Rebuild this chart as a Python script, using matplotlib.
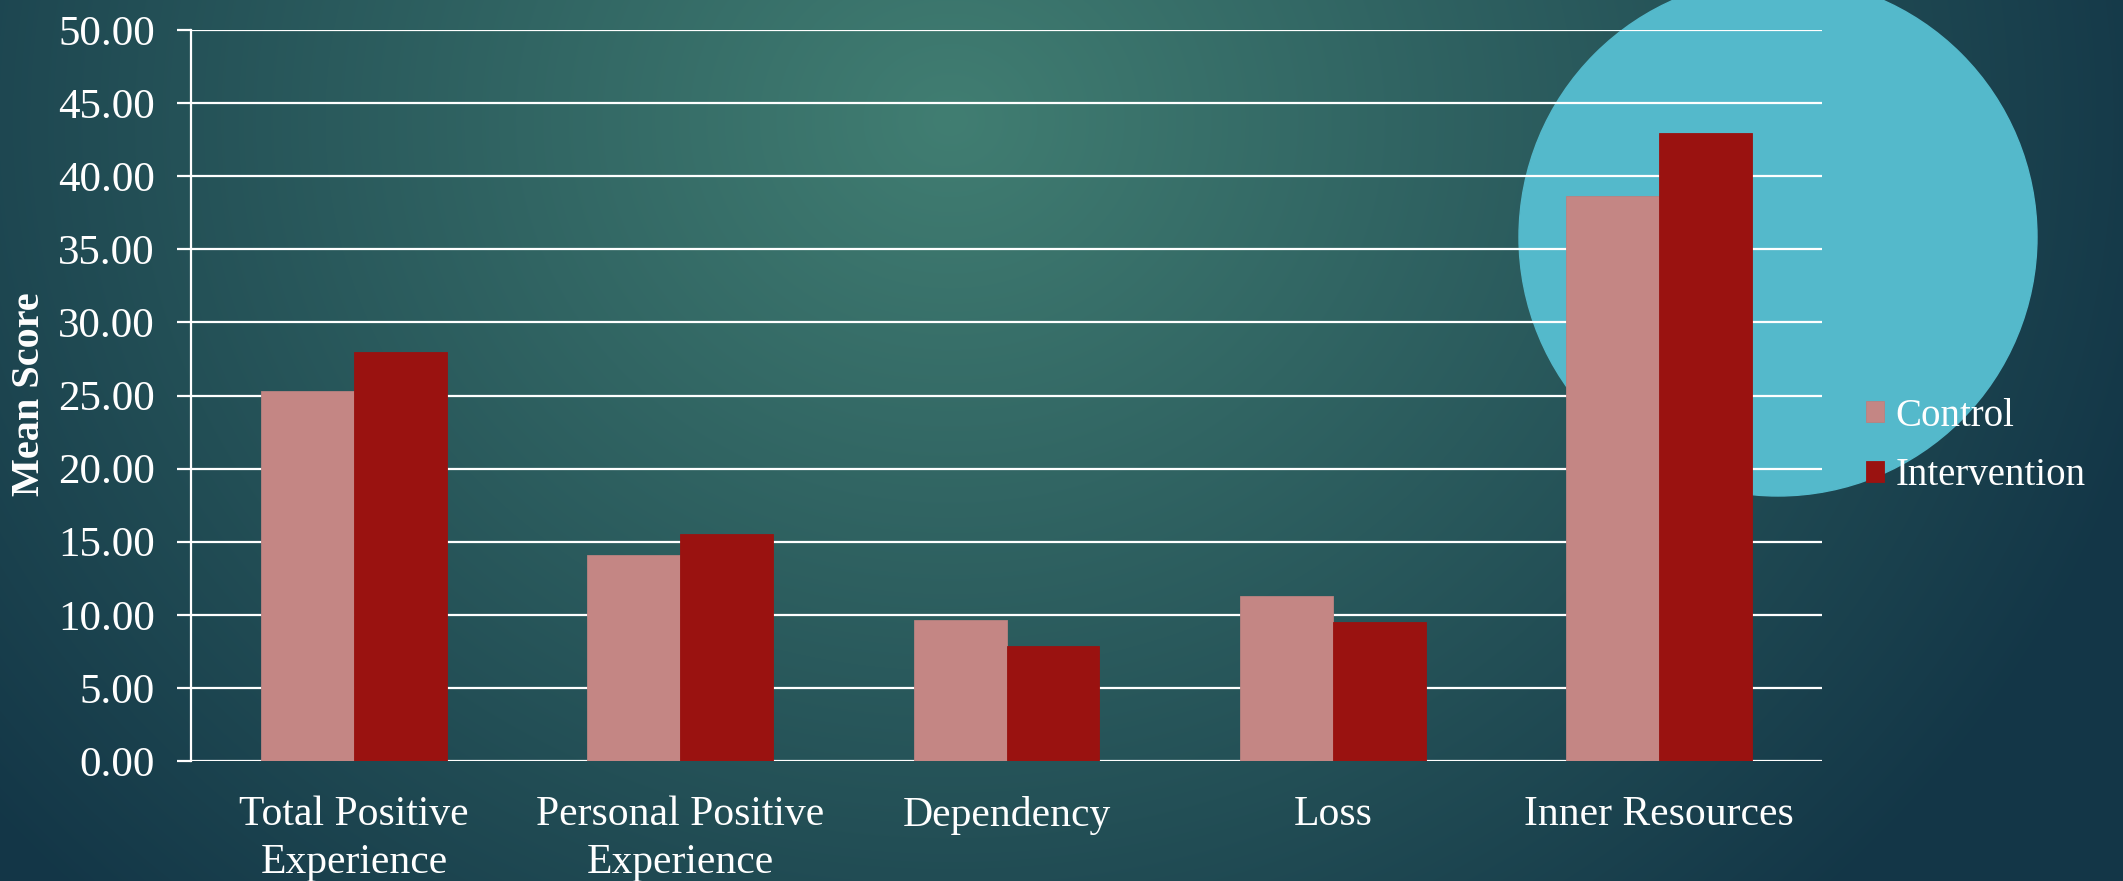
import matplotlib.pyplot as plt
import numpy as np
from matplotlib.patches import Circle

# data
categories = ['Total Positive\nExperience', 'Personal Positive\nExperience',
              'Dependency', 'Loss', 'Inner Resources']
control = [25.33, 14.12, 9.67, 11.27, 38.65]
intervention = [28.00, 15.56, 7.84, 9.53, 42.97]
series_names = ['Control', 'Intervention']
yticks = [0, 5, 10, 15, 20, 25, 30, 35, 40, 45, 50]

W, H = 2123, 881
fig = plt.figure(figsize=(W / 100, H / 100), dpi=100)

# background: teal radial glow plus the cyan circle
bg = fig.add_axes([0, 0, 1, 1])
yy, xx = np.mgrid[0:H, 0:W]
d = np.sqrt(((xx - 950) / 1250) ** 2 + ((yy - 120) / 1100) ** 2)
d = np.clip(d, 0, 1)[..., None]
c_in = np.array([0x41, 0x7e, 0x72]) / 255
c_out = np.array([0x13, 0x36, 0x47]) / 255
img = c_in * (1 - d) + c_out * d
bg.imshow(img, extent=(0, W, H, 0), aspect='auto')
bg.add_patch(Circle((1778, 237), 259, color='#54b9cb', zorder=2))
bg.set_xlim(0, W)
bg.set_ylim(H, 0)
bg.axis('off')

# the chart itself
ax = fig.add_axes([191 / W, 1 - 761 / H, (1822 - 191) / W, (761 - 30) / H])
ax.patch.set_alpha(0)
x = np.arange(len(categories))
w = 0.285
ax.bar(x - w / 2, control, w, color='#c48684', edgecolor='#b98280',
       linewidth=0.6, label=series_names[0], zorder=3)
ax.bar(x + w / 2, intervention, w, color='#9a1210', edgecolor='#9a1210',
       linewidth=0.6, label=series_names[1], zorder=3)

ax.set_xlim(-0.5, len(categories) - 0.5)
ax.set_ylim(0, 50)
ax.set_yticks(yticks)
ax.set_yticklabels(['%.2f' % v for v in yticks])
ax.set_xticks(x)
ax.set_xticklabels(categories, linespacing=1.3)
ax.yaxis.grid(True, color='white', linewidth=1.6, zorder=1)
ax.set_axisbelow(True)
for s in ['top', 'right', 'bottom']:
    ax.spines[s].set_visible(False)
ax.spines['left'].set_color('white')
ax.spines['left'].set_linewidth(1.6)
ax.tick_params(axis='y', colors='white', length=10, width=1.6, pad=16,
               labelsize=31)
ax.tick_params(axis='x', colors='white', length=0, pad=25, labelsize=30)
for lab in ax.get_xticklabels() + ax.get_yticklabels():
    lab.set_fontfamily('Liberation Serif')
    lab.set_color('white')

fig.text(30 / W, 1 - 394 / H, 'Mean Score', rotation=90, ha='center',
         va='center', color='white', fontsize=29, fontweight='bold',
         family='Liberation Serif')

leg = fig.legend(loc='center left', bbox_to_anchor=(1866 / W, 1 - 446 / H),
                 frameon=False, borderpad=0, borderaxespad=0,
                 handlelength=0.46, handleheight=0.46,
                 handletextpad=0.3, labelspacing=0.58,
                 prop={'family': 'Liberation Serif', 'size': 28})
for t in leg.get_texts():
    t.set_color('white')

plt.savefig('out.png', dpi=100)
